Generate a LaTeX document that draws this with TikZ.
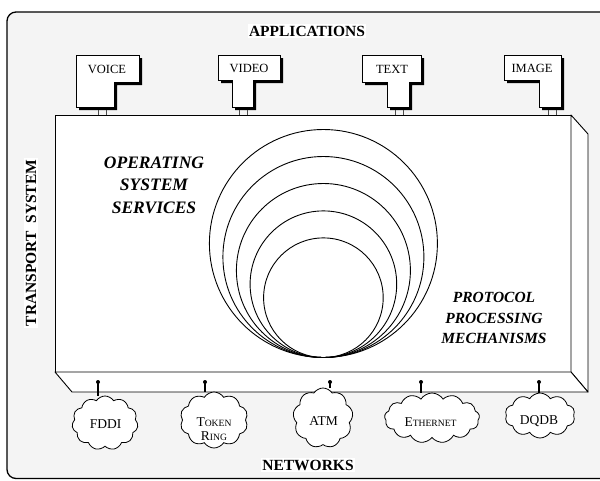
\documentclass[tikz,border=0pt]{standalone}
\usepackage{fontspec}
\setmainfont{Liberation Serif}
\usetikzlibrary{shapes.symbols}
\definecolor{panel}{HTML}{F4F4F4}
\newcommand\fsz[2]{\fontsize{#1}{#2}\selectfont}
% application box: black drop shadow, then the white outline on top
\newcommand\appshape[1]{\fill[shift={(3,3)}] #1; \draw[appbox] #1;}

\begin{document}
\begin{tikzpicture}[x=1pt,y=-1pt,
  face/.style={draw=black, fill=white, line width=0.9pt, line join=round},
  appbox/.style={draw=black, fill=white, line width=0.9pt},
  applabel/.style={font=\fsz{12.5}{14}, inner sep=0pt},
  title/.style={font=\bfseries\fsz{15.5}{18}, fill=white, inner sep=1.5pt},
  service/.style={font=\bfseries\itshape\fsz{15.5}{22}, align=center, inner sep=0pt},
  net/.style={cloud, cloud puffs=11, cloud puff arc=115, cloud ignores aspect,
              draw=black, fill=white, line width=0.8pt, inner sep=0pt},
  netlabel/.style={font=\fsz{13.5}{15}, align=center, inner sep=0pt},
  pin/.style={line width=1.4pt},
  link/.style={line width=0.6pt, draw=black!70}
]
\useasboundingbox (0,0) rectangle (600,480);
\clip (0,0) rectangle (600,480);

% outer frame
\draw[line width=1.3pt, rounded corners=9pt, fill=panel] (7,12) rectangle (625,478.5);

% transport system block (front, right and bottom faces)
\draw[face] (55,115) rectangle (571,372);
\draw[face] (571,115) -- (588,134) -- (588,392) -- (571,372) -- cycle;
\draw[face] (55,372) -- (72,392) -- (588,392) -- (571,372) -- cycle;

% nested protocol rings, all touching at the bottom
\foreach \r in {114,100.5,87,73.3,59.8}
  \draw[line width=0.9pt] (323.4,{357.5-\r}) circle[radius=\r pt];

% applications
\appshape{(76,55) -- (139,55) -- (139,82) -- (114,82) -- (114,107) -- (76,107) -- cycle}
\appshape{(218,55) -- (280,55) -- (280,80) -- (253,80) -- (253,107) -- (232,107) -- (232,80) -- (218,80) -- cycle}
\appshape{(362,55) -- (421,55) -- (421,82) -- (409,82) -- (409,107) -- (387,107) -- (387,82) -- (362,82) -- cycle}
\appshape{(504,55) -- (561,55) -- (561,107) -- (539,107) -- (539,80) -- (504,80) -- cycle}

\node[applabel] (voice) at (107,69) {VOICE};
\node[applabel] (video) at (249,68) {VIDEO};
\node[applabel] (text)  at (392,69) {TEXT};
\node[applabel] (image) at (532,68) {IMAGE};

% double-line sockets into the block
\foreach \x in {98,106,239,247,395,403,548,556}
  \draw[link] (\x,110) -- (\x,115);

% labels
\node[title] (apps) at (307,31) {APPLICATIONS};
\node[title] (nets) at (308,465) {NETWORKS};
\node[title, rotate=90] (trans) at (31,243) {TRANSPORT\ \ SYSTEM};

\node[service, font=\bfseries\itshape\fsz{17.5}{22.5}] (oss) at (154,185) {OPERATING\\SYSTEM\\SERVICES};
\node[service, font=\bfseries\itshape\fsz{15.5}{20.5}] (ppm) at (494,318) {PROTOCOL\\PROCESSING\\MECHANISMS};

% networks
\node[net, minimum width=66pt, minimum height=54pt] (fddi) at (105,423) {};
\node[net, minimum width=68pt, minimum height=56pt, cloud puffs=10] (ring) at (214,420) {};
\node[net, minimum width=60pt, minimum height=60pt, cloud puffs=9] (atm) at (323,418) {};
\node[net, minimum width=95pt, minimum height=50pt, cloud puffs=13] (eth) at (432,418) {};
\node[net, minimum width=70pt, minimum height=45pt, cloud puffs=10] (dqdb) at (540,415.5) {};

\node[netlabel] (fddi-t) at (105.5,424) {FDDI};
\node[netlabel] (ring-t) at (214,429) {T{\fsz{9.6}{11}OKEN}\\[-0.5pt]R{\fsz{9.6}{11}ING}};
\node[netlabel] (atm-t)  at (323.5,421) {ATM};
\node[netlabel] (eth-t)  at (430.5,422) {E{\fsz{9.6}{11}THERNET}};
\node[netlabel] (dqdb-t) at (539,421.5) {DQDB};

% network taps from the bottom face
\foreach \x/\n in {98/fddi,205/ring,330/atm,421/eth,539/dqdb}{
  \coordinate (tap-\n) at (\x,382);
  \draw[pin] (tap-\n) -- (tap-\n |- \n.north);
  \fill (tap-\n) circle[radius=2pt];
}
\end{tikzpicture}
\end{document}
